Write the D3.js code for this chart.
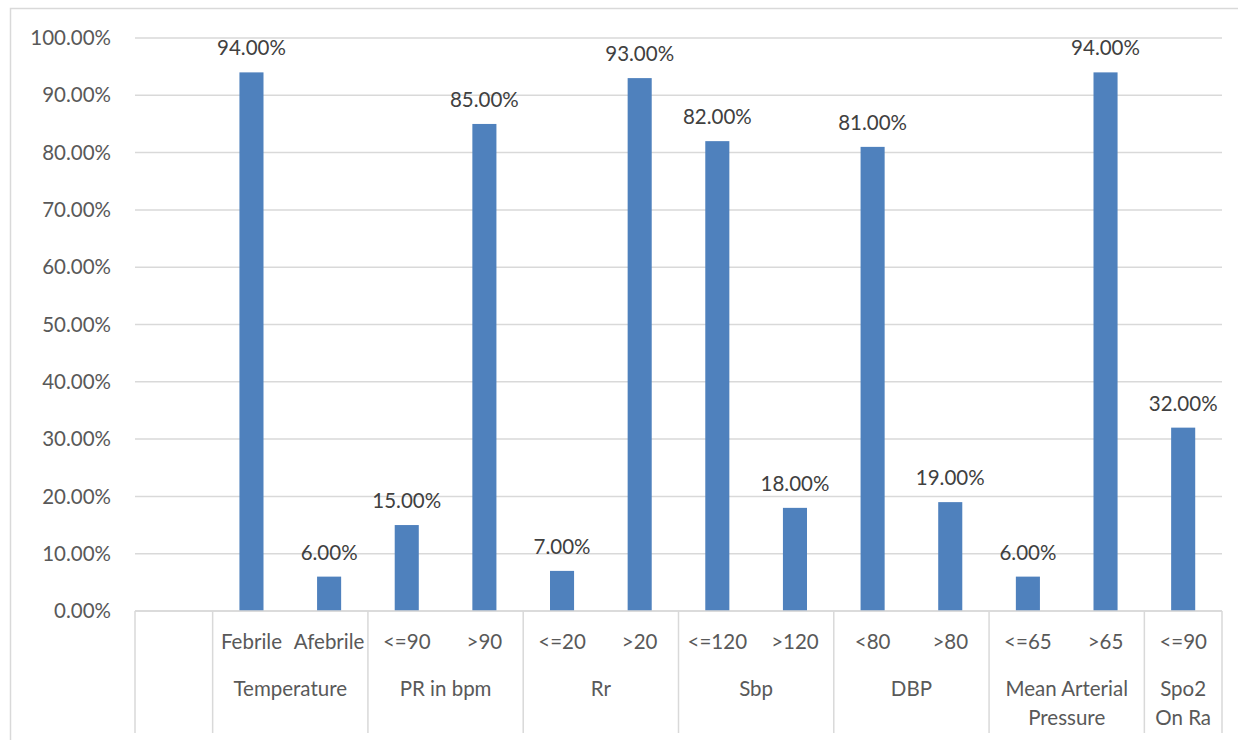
<!DOCTYPE html>
<html><head><meta charset="utf-8">
<script src="https://cdn.jsdelivr.net/npm/d3@7"></script>
<style>body{margin:0;background:#fff}svg{display:block}text{font-family:Lato,"Open Sans",sans-serif}</style>
</head><body>
<svg id="c" width="1238" height="740"></svg>
<script>
const subLabels = ["", "Febrile", "Afebrile", "<=90", ">90", "<=20", ">20", "<=120", ">120", "<80", ">80", "<=65", ">65", "<=90"];
const groupNames = [[""], ["Temperature"], ["PR in bpm"], ["Rr"], ["Sbp"], ["DBP"], ["Mean Arterial", "Pressure"], ["Spo2", "On Ra"]];
const groupSizes = [1, 2, 2, 2, 2, 2, 2, 1];
const values = [null, 94, 6, 15, 85, 7, 93, 82, 18, 81, 19, 6, 94, 32];
const yTicks = [0, 10, 20, 30, 40, 50, 60, 70, 80, 90, 100];

const FS = 20.5;
const svg = d3.select("#c");
const L = 135, R = 1222, T = 38, B = 611;
const keys = subLabels.map((d, i) => i);
const x = d3.scaleBand().domain(keys).range([L, R]).paddingInner(0.69).paddingOuter(0.345);
const y = d3.scaleLinear().domain([0, 100]).range([B, T]);

// outer border
svg.append("rect").attr("x", 10.5).attr("y", 8.5).attr("width", 1240).attr("height", 745)
  .attr("fill", "none").attr("stroke", "#d9d9d9").attr("stroke-width", 1.5);

// gridlines
svg.append("g").selectAll("line").data(yTicks).join("line")
  .attr("x1", L).attr("x2", R).attr("y1", d => y(d)).attr("y2", d => y(d))
  .attr("stroke", "#d9d9d9").attr("stroke-width", 1.5);

// y labels
svg.append("g").selectAll("text").data(yTicks).join("text")
  .attr("x", 111).attr("y", d => y(d)).attr("dy", "0.35em").attr("text-anchor", "end")
  .attr("fill", "#595959").attr("font-size", FS).text(d => d3.format(".2f")(d) + "%");

// bars
const data = values.map((v, i) => ({i, v})).filter(d => d.v != null);
svg.append("g").selectAll("rect").data(data).join("rect")
  .attr("x", d => x(d.i)).attr("width", x.bandwidth())
  .attr("y", d => y(d.v)).attr("height", d => y(0) - y(d.v))
  .attr("fill", "#4f81bd");

// value labels
svg.append("g").selectAll("text").data(data).join("text")
  .attr("x", d => x(d.i) + x.bandwidth() / 2).attr("y", d => y(d.v) - 17)
  .attr("text-anchor", "middle").attr("fill", "#404040").attr("font-size", FS)
  .text(d => d3.format(".2f")(d.v) + "%");

// category axis
const step = x.step();
const edge = i => L + step * i;
svg.append("line").attr("x1", L).attr("x2", R).attr("y1", B).attr("y2", B)
  .attr("stroke", "#d9d9d9").attr("stroke-width", 1.5);
let bounds = [0];
groupSizes.forEach(s => bounds.push(bounds[bounds.length - 1] + s));
svg.append("g").selectAll("line").data(bounds).join("line")
  .attr("x1", d => edge(d)).attr("x2", d => edge(d)).attr("y1", B).attr("y2", 733)
  .attr("stroke", "#d9d9d9").attr("stroke-width", 1.5);

svg.append("g").selectAll("text").data(keys).join("text")
  .attr("x", d => x(d) + x.bandwidth() / 2).attr("y", 642).attr("dy", "0.35em")
  .attr("text-anchor", "middle").attr("fill", "#595959").attr("font-size", FS)
  .text(d => subLabels[d]);

groupNames.forEach((lines, g) => {
  const cx = (edge(bounds[g]) + edge(bounds[g + 1])) / 2;
  lines.forEach((t, j) => {
    svg.append("text").attr("x", cx).attr("y", 689 + j * 29).attr("dy", "0.35em")
      .attr("text-anchor", "middle").attr("fill", "#595959").attr("font-size", FS).text(t);
  });
});
</script>
</body></html>
